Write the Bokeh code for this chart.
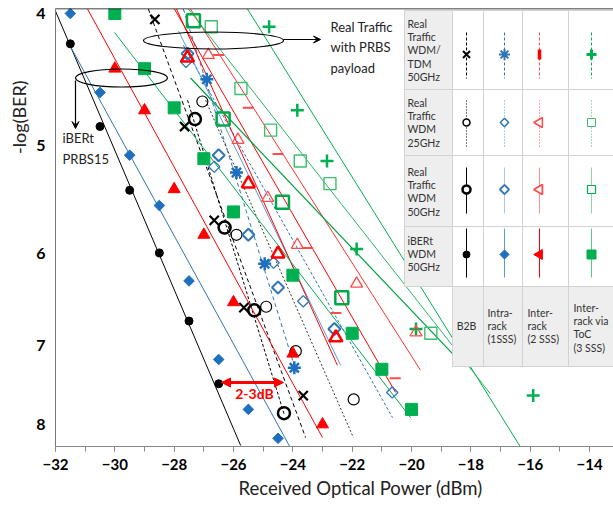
import math
from bokeh.plotting import figure
from bokeh.models import Range1d, FixedTicker, PrintfTickFormatter, Arrow, VeeHead, NormalHead, Span, Title
from bokeh.core.properties import value
from bokeh.embed import file_html
from bokeh.resources import INLINE

# ------------------------------------------------------------------ data
# x: received optical power (dBm), y: -log(BER)
x_ticks = [-32, -30, -28, -26, -24, -22, -20, -18, -16, -14]
x_minor = [-32, -31, -30, -29, -28, -27, -26, -25, -24, -23, -22, -21, -20, -19, -18, -17, -16, -15, -14, -13]
y_ticks = [4, 5, 6, 7, 8]

# iBERt WDM 50GHz (filled markers)
ibert_b2b_x = [-31.5, -30.5, -29.5, -28.5, -27.5, -26.5]
ibert_b2b_y = [4.21, 4.84, 5.39, 5.99, 6.72, 7.47]
ibert_intra_x = [-31.5, -30.5, -29.5, -28.5, -27.5, -26.5, -25.5, -24.5]
ibert_intra_y = [4.00, 4.57, 5.08, 5.53, 6.28, 7.17, 7.80, 8.19]
ibert_inter_x = [-30.0, -29.0, -28.0, -27.0, -26.0, -24.0, -23.0]
ibert_inter_y = [4.39, 4.71, 5.38, 5.81, 6.51, 7.10, 8.00]
ibert_toc_x = [-30.0, -29.0, -28.0, -27.0, -26.0, -24.0, -22.0, -21.0, -20.0]
ibert_toc_y = [4.00, 4.39, 4.69, 5.11, 5.59, 6.22, 6.86, 7.29, 7.80]

# Real traffic WDM 50GHz (bold open markers)
wdm50_b2b_x = [-27.3, -26.3, -25.3, -24.3]
wdm50_b2b_y = [4.78, 5.74, 6.60, 7.85]
wdm50_intra_x = [-27.55, -26.5, -25.5, -24.5, -22.6]
wdm50_intra_y = [4.28, 5.08, 5.81, 6.35, 6.81]
wdm50_inter_x = [-27.55, -25.5, -24.5, -22.55]
wdm50_inter_y = [4.31, 5.33, 6.00, 6.91]
wdm50_toc_x = [-27.35, -26.35, -24.35, -22.35]
wdm50_toc_y = [4.05, 4.78, 5.50, 6.46]

# Real traffic WDM 25GHz (thin open markers)
wdm25_b2b_x = [-27.05, -25.9, -24.9, -23.9, -21.95]
wdm25_b2b_y = [4.64, 5.81, 6.56, 7.07, 7.67]
wdm25_intra_x = [-27.6, -26.65, -24.65, -23.65, -20.65]
wdm25_intra_y = [4.34, 5.18, 6.09, 6.50, 7.58]
wdm25_inter_x = [-26.85, -25.85, -24.85, -23.85, -21.85, -19.85]
wdm25_inter_y = [4.29, 4.95, 5.46, 5.91, 6.31, 6.85]
wdm25_toc_x = [-26.75, -25.75, -24.75, -23.75, -22.75, -19.35]
wdm25_toc_y = [4.09, 4.54, 4.87, 5.13, 5.33, 6.86]

# Real traffic WDM/TDM 50GHz
tdm_b2b_x = [-28.65, -27.65, -26.65, -25.65, -23.65]
tdm_b2b_y = [4.04, 4.84, 5.67, 6.57, 7.62]
tdm_intra_x = [-26.9, -25.9, -24.95, -23.95]
tdm_intra_y = [4.47, 5.23, 6.10, 7.27]
tdm_inter_x = [-26.5, -25.5, -24.5, -23.5, -22.55, -20.55]
tdm_inter_y = [4.29, 4.69, 5.07, 5.94, 6.63, 7.40]
tdm_toc_x = [-24.8, -23.85, -22.85, -21.85, -19.85, -15.9]
tdm_toc_y = [4.09, 4.71, 5.13, 5.95, 6.81, 7.62]

# trend lines (end points)
ibert_b2b_fit_x, ibert_b2b_fit_y = [-32.03, -25.76], [3.97, 8.29]
ibert_intra_fit_x, ibert_intra_fit_y = [-31.60, -24.11], [4.19, 8.30]
ibert_inter_fit_x, ibert_inter_fit_y = [-30.92, -23.00], [3.97, 8.18]
ibert_toc_fit_x, ibert_toc_fit_y = [-30.01, -20.03], [4.13, 7.91]
wdm50_b2b_fit_x, wdm50_b2b_fit_y = [-27.55, -24.28], [4.63, 7.88]
wdm50_intra_fit_x, wdm50_intra_fit_y = [-27.85, -22.39], [4.12, 7.24]
wdm50_inter_fit_x, wdm50_inter_fit_y = [-27.92, -22.50], [3.97, 7.24]
wdm50_toc_fit_x, wdm50_toc_fit_y = [-27.45, -18.62], [4.46, 7.10]
wdm25_b2b_fit_x, wdm25_b2b_fit_y = [-26.94, -21.96], [4.63, 8.18]
wdm25_intra_fit_x, wdm25_intra_fit_y = [-27.69, -20.64], [4.22, 7.91]
wdm25_inter_fit_x, wdm25_inter_fit_y = [-27.45, -19.70], [3.97, 7.30]
wdm25_toc_fit_x, wdm25_toc_fit_y = [-27.52, -17.34], [3.97, 7.60]
tdm_b2b_fit_x, tdm_b2b_fit_y = [-28.87, -23.57], [3.97, 8.18]
tdm_intra_fit_x, tdm_intra_fit_y = [-27.69, -23.88], [3.97, 7.33]
tdm_inter_fit_x, tdm_inter_fit_y = [-27.99, -20.54], [3.97, 7.58]
tdm_toc_fit_x, tdm_toc_fit_y = [-25.53, -16.33], [3.97, 8.31]

row_labels = ["Real\nTraffic\nWDM/\nTDM\n50GHz", "Real\nTraffic\nWDM\n25GHz",
              "Real\nTraffic\nWDM\n50GHz", "iBERt\nWDM\n50GHz"]
col_labels = ["B2B", "Intra-\nrack\n(1SSS)", "Inter-\nrack\n(2 SSS)", "Inter-\nrack via\nToC\n(3 SSS)"]

# ------------------------------------------------------------------ layout helpers
FONT = "Lato"
BLUE = "#1F6FBF"
BLUE2 = "#2E75B6"
LBLUE = "#5B9BD5"
RED = "#FF0000"
LRED = "#FF4B4B"
GREEN = "#00B050"
LGREEN = "#3DBE6E"


def fx(px):  # page pixel -> dBm
    return -32 + (px - 55) / 29.67


def fy(py):  # page pixel -> -log(BER)
    return 4 * 10 ** ((py - 13) / 1365)


p = figure(width=613, height=506, output_backend="svg", toolbar_location=None,
           x_range=Range1d(-32, fx(613)), y_range=Range1d(fy(446), fy(8)),
           y_axis_type="log", min_border_left=55, min_border_right=0,
           min_border_top=8, min_border_bottom=60)
p.outline_line_color = None
p.grid.visible = False
p.background_fill_color = "white"

p.xaxis.ticker = FixedTicker(ticks=x_ticks, minor_ticks=x_minor)
p.xaxis.major_label_text_font = FONT
p.xaxis.major_label_text_font_style = "bold"
p.xaxis.major_label_text_font_size = "15px"
p.xaxis.major_label_text_color = "black"
p.xaxis.major_tick_out = 5
p.xaxis.major_tick_in = 0
p.xaxis.minor_tick_out = 5
p.xaxis.minor_tick_in = 0
p.xaxis.major_label_standoff = 7
p.xaxis.axis_line_color = "#888888"
p.xaxis.major_tick_line_color = "#888888"
p.xaxis.minor_tick_line_color = "#888888"

p.yaxis.ticker = FixedTicker(ticks=y_ticks, minor_ticks=[])
p.yaxis.formatter = PrintfTickFormatter(format="%d")
p.yaxis.major_label_text_font = FONT
p.yaxis.major_label_text_font_style = "bold"
p.yaxis.major_label_text_font_size = "16px"
p.yaxis.major_label_text_color = "black"
p.yaxis.major_tick_out = 0
p.yaxis.major_tick_in = 0
p.yaxis.minor_tick_out = 0
p.yaxis.minor_tick_in = 0
p.yaxis.major_label_standoff = 10
p.yaxis.axis_line_color = "#777777"

p.add_layout(Span(location=fy(8), dimension="width", line_color="black", line_width=1.5))

# axis titles (placed as side titles so they can sit off-centre like the reference)
p.add_layout(Title(text="-log(BER)", align="right", offset=72, standoff=8,
                   text_font=FONT, text_font_size="18px", text_font_style="normal",
                   text_color="#222222"), "left")
p.add_layout(Title(text="Received Optical Power (dBm)", align="left", offset=183, standoff=5,
                   text_font=FONT, text_font_size="18.5px", text_font_style="normal",
                   text_color="#222222"), "below")

# ------------------------------------------------------------------ series
series = [
    (tdm_b2b_x, tdm_b2b_y, tdm_b2b_fit_x, tdm_b2b_fit_y,
     dict(marker="x", size=13, line_color="black", line_width=2.2),
     dict(line_color="black", line_width=1, line_dash="4 3")),
    (tdm_intra_x, tdm_intra_y, tdm_intra_fit_x, tdm_intra_fit_y,
     dict(marker="asterisk", size=13, line_color=BLUE, line_width=2.5),
     dict(line_color=BLUE2, line_width=1, line_dash="4 3")),
    (tdm_inter_x, tdm_inter_y, tdm_inter_fit_x, tdm_inter_fit_y,
     dict(marker="dash", size=11, line_color=LRED, line_width=2),
     dict(line_color=RED, line_width=1)),
    (tdm_toc_x, tdm_toc_y, tdm_toc_fit_x, tdm_toc_fit_y,
     dict(marker="cross", size=13, line_color=GREEN, line_width=2.5),
     dict(line_color=GREEN, line_width=1)),
    (wdm25_b2b_x, wdm25_b2b_y, wdm25_b2b_fit_x, wdm25_b2b_fit_y,
     dict(marker="circle", size=11, line_color="black", fill_color=None, line_width=1.2),
     dict(line_color="#333333", line_width=1, line_dash="2 2")),
    (wdm25_intra_x, wdm25_intra_y, wdm25_intra_fit_x, wdm25_intra_fit_y,
     dict(marker="square", angle=math.pi / 4, size=8, line_color=BLUE2, fill_color=None, line_width=1.3),
     dict(line_color=BLUE2, line_width=1, line_dash="3 2")),
    (wdm25_inter_x, wdm25_inter_y, wdm25_inter_fit_x, wdm25_inter_fit_y,
     dict(marker="triangle", size=12, line_color=LRED, fill_color=None, line_width=1.3),
     dict(line_color="#FF3030", line_width=1)),
    (wdm25_toc_x, wdm25_toc_y, wdm25_toc_fit_x, wdm25_toc_fit_y,
     dict(marker="square", size=12, line_color=LGREEN, fill_color=None, line_width=1.4),
     dict(line_color="#27B862", line_width=1)),
    (wdm50_b2b_x, wdm50_b2b_y, wdm50_b2b_fit_x, wdm50_b2b_fit_y,
     dict(marker="circle", size=12, line_color="black", fill_color=None, line_width=2.5),
     dict(line_color="black", line_width=1, line_dash="3 2")),
    (wdm50_intra_x, wdm50_intra_y, wdm50_intra_fit_x, wdm50_intra_fit_y,
     dict(marker="square", angle=math.pi / 4, size=8.5, line_color=BLUE2, fill_color=None, line_width=2),
     dict(line_color=LBLUE, line_width=1)),
    (wdm50_inter_x, wdm50_inter_y, wdm50_inter_fit_x, wdm50_inter_fit_y,
     dict(marker="triangle", size=13, line_color=RED, fill_color=None, line_width=2.5),
     dict(line_color=RED, line_width=1)),
    (wdm50_toc_x, wdm50_toc_y, wdm50_toc_fit_x, wdm50_toc_fit_y,
     dict(marker="square", size=13, line_color="#00A84C", fill_color=None, line_width=2.5),
     dict(line_color="#00A040", line_width=1.2)),
    (ibert_b2b_x, ibert_b2b_y, ibert_b2b_fit_x, ibert_b2b_fit_y,
     dict(marker="circle", size=8, line_color="black", fill_color="black"),
     dict(line_color="black", line_width=1)),
    (ibert_intra_x, ibert_intra_y, ibert_intra_fit_x, ibert_intra_fit_y,
     dict(marker="square", angle=math.pi / 4, size=7.5, line_color=BLUE, fill_color=BLUE),
     dict(line_color=BLUE2, line_width=1)),
    (ibert_inter_x, ibert_inter_y, ibert_inter_fit_x, ibert_inter_fit_y,
     dict(marker="triangle", size=12, line_color=RED, fill_color=RED),
     dict(line_color=RED, line_width=1)),
    (ibert_toc_x, ibert_toc_y, ibert_toc_fit_x, ibert_toc_fit_y,
     dict(marker="square", size=12, line_color=GREEN, fill_color=GREEN),
     dict(line_color=GREEN, line_width=1)),
]

for xs, ys, lx, ly, mk, ln in series:
    p.line(lx, ly, **ln)
for xs, ys, lx, ly, mk, ln in series:
    p.scatter(xs, ys, **mk)

# ------------------------------------------------------------------ annotations
p.ellipse(x=[fx(121)], y=[fy(77.5)], width=92, height=18, width_units="screen",
          height_units="screen", fill_color=None, line_color="black", line_width=1.2)
p.ellipse(x=[fx(213)], y=[fy(40)], width=140, height=17, width_units="screen",
          height_units="screen", fill_color=None, line_color="black", line_width=1.2)
p.add_layout(Arrow(end=VeeHead(size=7, fill_color="black", line_color="black", line_width=1),
                   x_start=fx(75), y_start=fy(80), x_end=fx(75), y_end=fy(128),
                   line_color="black", line_width=1.2))
p.add_layout(Arrow(end=VeeHead(size=7, fill_color="black", line_color="black", line_width=1),
                   x_start=fx(283), y_start=fy(39), x_end=fx(320), y_end=fy(39),
                   line_color="black", line_width=1.2))
p.add_layout(Arrow(start=NormalHead(size=9, fill_color=RED, line_color=RED, line_width=1),
                   end=NormalHead(size=9, fill_color=RED, line_color=RED, line_width=1),
                   x_start=fx(221), y_start=fy(382), x_end=fx(283), y_end=fy(382),
                   line_color=RED, line_width=3))
p.text(x=[fx(62)], y=[fy(129)], text=["iBERt\nPRBS15"], text_font=value(FONT),
       text_font_size=value("13px"), text_align=value("left"), text_baseline=value("top"),
       text_line_height=1.35, text_color="#222222")
p.text(x=[fx(330)], y=[fy(18)], text=["Real Traffic\nwith PRBS\npayload"], text_font=value(FONT),
       text_font_size=value("13px"), text_align=value("left"), text_baseline=value("top"),
       text_line_height=1.3, text_color="#222222")
p.text(x=[fx(254)], y=[fy(393)], text=["2-3dB"], text_font=value(FONT),
       text_font_size=value("14px"), text_font_style=value("bold"), text_align=value("center"),
       text_baseline=value("middle"), text_color=RED)

# ------------------------------------------------------------------ legend table
col_edges = [404, 452, 483, 522, 568, 613]
row_edges = [10, 89, 155, 226, 286, 366]
GRAY = "#EEEEEE"
BORDER = "#D2D2D2"
ql, qr, qt, qb, qc = [], [], [], [], []
for r in range(4):
    for c in range(5):
        ql.append(fx(col_edges[c])); qr.append(fx(col_edges[c + 1]))
        qt.append(fy(row_edges[r])); qb.append(fy(row_edges[r + 1]))
        qc.append(GRAY if c == 0 else "white")
for c in range(1, 5):
    ql.append(fx(col_edges[c])); qr.append(fx(col_edges[c + 1]))
    qt.append(fy(row_edges[4])); qb.append(fy(row_edges[5]))
    qc.append(GRAY)
p.quad(left=ql, right=qr, top=qt, bottom=qb, fill_color=qc, line_color=BORDER, line_width=1)

row_text_top = [17, 96, 165, 234]
p.text(x=[fx(407)] * 4, y=[fy(t) for t in row_text_top], text=row_labels, text_font=value(FONT),
       text_font_size=value("10.5px"), text_align=value("left"), text_baseline=value("top"),
       text_line_height=1.12, text_color="#333333")
hdr_x = [466, 487, 527, 573]
hdr_top = [319, 306, 306, 301]
hdr_align = ["center", "left", "left", "left"]
for hx, ht, ha, lab in zip(hdr_x, hdr_top, hdr_align, col_labels):
    p.text(x=[fx(hx)], y=[fy(ht)], text=[lab], text_font=value(FONT),
           text_font_size=value("10.5px"), text_align=value(ha), text_baseline=value("top"),
           text_line_height=1.12, text_color="#333333")

leg_cx = [466, 504, 539, 591]
leg_rows = [(32, 78, 54), (100, 147, 122), (167, 213, 189), (228, 277, 254)]
leg_line = [
    [("black", "3 2"), (BLUE2, "3 2"), (LRED, "3 2"), (GREEN, "3 2")],
    [("black", "1 2"), (LBLUE, "1 2"), (LRED, "1 2"), (LGREEN, "1 2")],
    [("black", "solid"), ("#A9C8E8", "solid"), ("#FF9090", "solid"), ("#8FD6A8", "solid")],
    [("black", "solid"), (LBLUE, "solid"), (RED, "solid"), ("#5CCB8A", "solid")],
]
leg_mark = [
    [dict(marker="x", size=10, line_color="black", line_width=2),
     dict(marker="asterisk", size=11, line_color=BLUE2, line_width=2),
     dict(marker="dash", angle=math.pi / 2, size=10, line_color=RED, line_width=3.5),
     dict(marker="cross", size=10, line_color=GREEN, line_width=3)],
    [dict(marker="circle", size=7, line_color="black", fill_color="white", line_width=1.5),
     dict(marker="square", angle=math.pi / 4, size=6, line_color=BLUE2, fill_color="white", line_width=1.5),
     dict(marker="triangle", angle=math.pi / 2, size=10, line_color=LRED, fill_color="white", line_width=1.5),
     dict(marker="square", size=8, line_color=LGREEN, fill_color="white", line_width=1)],
    [dict(marker="circle", size=8, line_color="black", fill_color="white", line_width=2.5),
     dict(marker="square", angle=math.pi / 4, size=6.5, line_color=BLUE2, fill_color="white", line_width=1.8),
     dict(marker="triangle", angle=math.pi / 2, size=10, line_color=LRED, fill_color="white", line_width=1.8),
     dict(marker="square", size=8, line_color=GREEN, fill_color="white", line_width=1.2)],
    [dict(marker="circle", size=7, line_color="black", fill_color="black"),
     dict(marker="square", angle=math.pi / 4, size=6.5, line_color=BLUE, fill_color=BLUE),
     dict(marker="triangle", angle=math.pi / 2, size=10, line_color=RED, fill_color=RED),
     dict(marker="square", size=9, line_color=GREEN, fill_color=GREEN)],
]
for r, (t0, t1, tm) in enumerate(leg_rows):
    for c, cx in enumerate(leg_cx):
        col, dash = leg_line[r][c]
        p.segment(x0=[fx(cx)], y0=[fy(t0)], x1=[fx(cx)], y1=[fy(t1)], line_color=col,
                  line_width=1, line_dash=dash)
        p.scatter([fx(cx)], [fy(tm)], **leg_mark[r][c])

open("out.html", "w").write(file_html(p, INLINE))
